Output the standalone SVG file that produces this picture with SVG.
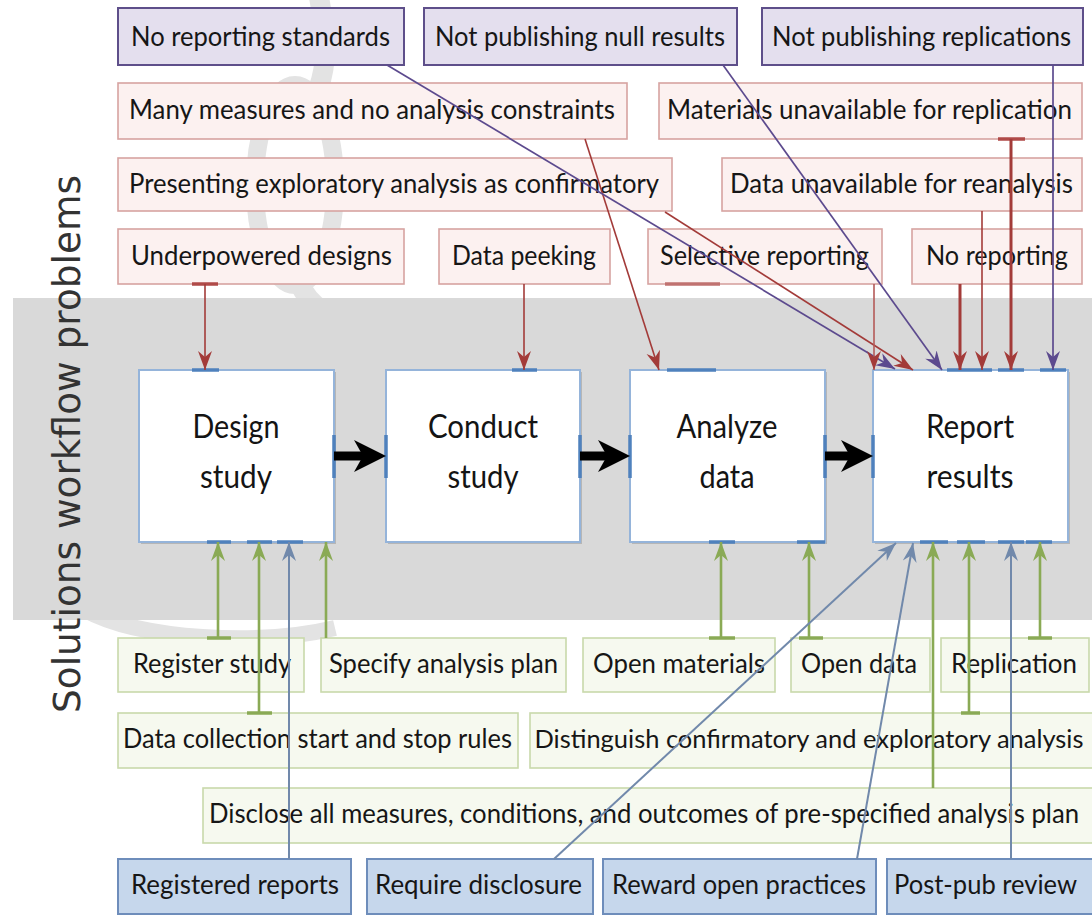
<svg xmlns="http://www.w3.org/2000/svg" width="1092" height="915" viewBox="0 0 1092 915">
  <defs>
    <style>
      .lbl { font-family: Lato, "Liberation Sans", sans-serif; font-size: 26px; fill: #161616; text-anchor: middle; }
      .step-t { font-family: Lato, "Liberation Sans", sans-serif; font-size: 33px; fill: #141414; text-anchor: middle; }
      .prob-p rect { fill: #e4dfee; stroke: #5e4f8a; stroke-width: 2; }
      .prob-r rect { fill: #fcf1f0; stroke: #d6a3a1; stroke-width: 1.6; }
      .sol-g rect { fill: #f6f9ef; stroke: #c9d9ab; stroke-width: 1.6; }
      .sol-b rect { fill: #c6d7ec; stroke: #6e8dbb; stroke-width: 2; }
      .step rect.box { fill: #ffffff; stroke: #95b4da; stroke-width: 2; }
      .step rect.shade { fill: #8c8c8c; opacity: 0.45; }
      .step .site { stroke: #4f81bd; stroke-width: 3.5; fill: none; }
      .wm { fill: none; stroke: #e3e3e3; }
      .c { fill: none; stroke-linecap: butt; }
      .red { stroke: #a33b39; stroke-width: 1.6; marker-end: url(#ah-red); }
      .red-b { stroke: #a33b39; stroke-width: 3; marker-end: url(#ah-red); }
      .red-l { stroke: #b45a58; stroke-width: 1.6; marker-end: url(#ah-red); }
      .pur { stroke: #5c4a8e; stroke-width: 1.7; marker-end: url(#ah-pur); }
      .grn { stroke: #8aaa55; stroke-width: 2.6; marker-end: url(#ah-grn); }
      .blu { stroke: #7189ab; stroke-width: 2; marker-end: url(#ah-blu); }
      .flow { stroke: #000000; stroke-width: 9; marker-end: url(#ah-blk); }
      .tick-r { stroke: #b04a48; stroke-width: 3.5; }
      .tick-g { stroke: #8aaa55; stroke-width: 3.5; }
    </style>
    <marker id="ah-red" viewBox="-19 -8 20 16" refX="0" refY="0" markerWidth="20" markerHeight="16" markerUnits="userSpaceOnUse" orient="auto">
      <path d="M0,0 L-19,-7 L-13,0 L-19,7 Z" fill="#a33b39"/>
    </marker>
    <marker id="ah-pur" viewBox="-19 -8 20 16" refX="0" refY="0" markerWidth="20" markerHeight="16" markerUnits="userSpaceOnUse" orient="auto">
      <path d="M0,0 L-19,-7 L-13,0 L-19,7 Z" fill="#5c4a8e"/>
    </marker>
    <marker id="ah-grn" viewBox="-19 -8 20 16" refX="0" refY="0" markerWidth="20" markerHeight="16" markerUnits="userSpaceOnUse" orient="auto">
      <path d="M0,0 L-19,-7 L-13,0 L-19,7 Z" fill="#8aaa55"/>
    </marker>
    <marker id="ah-blu" viewBox="-19 -8 20 16" refX="0" refY="0" markerWidth="20" markerHeight="16" markerUnits="userSpaceOnUse" orient="auto">
      <path d="M0,0 L-19,-7 L-13,0 L-19,7 Z" fill="#7189ab"/>
    </marker>
    <marker id="ah-blk" viewBox="0 -17 33 34" refX="9" refY="0" markerWidth="33" markerHeight="34" markerUnits="userSpaceOnUse" orient="auto">
      <path d="M0,-16 L32,0 L0,16 L9,0 Z" fill="#000000"/>
    </marker>
  </defs>

  <rect x="0" y="0" width="1092" height="915" fill="#ffffff"/>

  <!-- faint background swirl -->
  <g id="watermark">
    <path class="wm" stroke-width="20" d="M318,-10 C322,20 332,50 318,90"/>
    <ellipse class="wm" stroke-width="18" cx="295" cy="185" rx="40" ry="100"/>
    <path class="wm" stroke-width="20" d="M298,280 C304,295 312,305 325,312"/>
    <path class="wm" stroke-width="16" stroke="#e8e8e8" d="M85,610 C140,640 260,646 335,628"/>
  </g>

  <!-- workflow band -->
  <rect id="band" x="13" y="298" width="1079" height="322" fill="#d9d9d9"/>

  <text id="side-title" transform="translate(80,444) rotate(-90)" font-family="'DejaVu Sans', 'Liberation Sans', sans-serif" font-size="37" fill="#333333" text-anchor="middle" textLength="538" lengthAdjust="spacingAndGlyphs">Solutions workflow problems</text>

  <!-- problems -->
  <g id="no-reporting-standards" class="prob-p">
    <rect x="118" y="8" width="286" height="57"/>
    <text class="lbl" x="260.5" y="46" textLength="259" lengthAdjust="spacingAndGlyphs">No reporting standards</text>
  </g>
  <g id="not-publishing-null" class="prob-p">
    <rect x="424" y="8" width="313" height="57"/>
    <text class="lbl" x="580" y="46" textLength="290" lengthAdjust="spacingAndGlyphs">Not publishing null results</text>
  </g>
  <g id="not-publishing-replications" class="prob-p">
    <rect x="762" y="8" width="321" height="57"/>
    <text class="lbl" x="921.5" y="46" textLength="299" lengthAdjust="spacingAndGlyphs">Not publishing replications</text>
  </g>
  <g id="many-measures" class="prob-r">
    <rect x="118" y="83" width="509" height="56"/>
    <text class="lbl" x="372" y="119" textLength="486" lengthAdjust="spacingAndGlyphs">Many measures and no analysis constraints</text>
  </g>
  <g id="materials-unavailable" class="prob-r">
    <rect x="659" y="83" width="423" height="56"/>
    <text class="lbl" x="869.5" y="119" textLength="405" lengthAdjust="spacingAndGlyphs">Materials unavailable for replication</text>
  </g>
  <g id="exploratory-as-confirmatory" class="prob-r">
    <rect x="118" y="158" width="554" height="53"/>
    <text class="lbl" x="394" y="193" textLength="530" lengthAdjust="spacingAndGlyphs">Presenting exploratory analysis as confirmatory</text>
  </g>
  <g id="data-unavailable" class="prob-r">
    <rect x="722" y="158" width="360" height="53"/>
    <text class="lbl" x="901.5" y="193" textLength="343" lengthAdjust="spacingAndGlyphs">Data unavailable for reanalysis</text>
  </g>
  <g id="underpowered" class="prob-r">
    <rect x="118" y="229" width="286" height="55"/>
    <text class="lbl" x="261.5" y="265" textLength="261" lengthAdjust="spacingAndGlyphs">Underpowered designs</text>
  </g>
  <g id="data-peeking" class="prob-r">
    <rect x="439" y="229" width="171" height="55"/>
    <text class="lbl" x="524" y="265" textLength="144" lengthAdjust="spacingAndGlyphs">Data peeking</text>
  </g>
  <g id="selective-reporting" class="prob-r">
    <rect x="648" y="229" width="234" height="55"/>
    <text class="lbl" x="764.5" y="265" textLength="209" lengthAdjust="spacingAndGlyphs">Selective reporting</text>
  </g>
  <g id="no-reporting" class="prob-r">
    <rect x="912" y="229" width="170" height="55"/>
    <text class="lbl" x="997" y="265" textLength="142" lengthAdjust="spacingAndGlyphs">No reporting</text>
  </g>

  <!-- workflow steps -->
  <g id="design-study" class="step">
    <rect class="shade" x="141" y="372" width="195" height="172"/>
    <rect class="box" x="139" y="370" width="195" height="172"/>
    <path class="site" d="M192,370 H219 M207,542 H231 M247,542 H272 M277,542 H303 M334,435 V478"/>
    <text class="step-t" x="236" y="438" textLength="87" lengthAdjust="spacingAndGlyphs">Design</text>
    <text class="step-t" x="236" y="488" textLength="72" lengthAdjust="spacingAndGlyphs">study</text>
  </g>
  <g id="conduct-study" class="step">
    <rect class="shade" x="388" y="372" width="194" height="172"/>
    <rect class="box" x="386" y="370" width="194" height="172"/>
    <path class="site" d="M512,370 H537 M386,435 V478 M580,435 V478"/>
    <text class="step-t" x="483" y="438" textLength="110" lengthAdjust="spacingAndGlyphs">Conduct</text>
    <text class="step-t" x="483" y="488" textLength="71" lengthAdjust="spacingAndGlyphs">study</text>
  </g>
  <g id="analyze-data" class="step">
    <rect class="shade" x="632" y="372" width="195" height="172"/>
    <rect class="box" x="630" y="370" width="195" height="172"/>
    <path class="site" d="M667,370 H716 M630,435 V478 M825,435 V478 M709,542 H735 M797,542 H825"/>
    <text class="step-t" x="727" y="438" textLength="101" lengthAdjust="spacingAndGlyphs">Analyze</text>
    <text class="step-t" x="727" y="488" textLength="55" lengthAdjust="spacingAndGlyphs">data</text>
  </g>
  <g id="report-results" class="step">
    <rect class="shade" x="875" y="372" width="195" height="172"/>
    <rect class="box" x="873" y="370" width="195" height="172"/>
    <path class="site" d="M947,370 H992 M998,370 H1024 M1040,370 H1066 M873,435 V478 M920,542 H948 M957,542 H985 M998,542 H1024 M1026,542 H1052"/>
    <text class="step-t" x="970" y="438" textLength="88" lengthAdjust="spacingAndGlyphs">Report</text>
    <text class="step-t" x="970" y="488" textLength="87" lengthAdjust="spacingAndGlyphs">results</text>
  </g>

  <!-- solutions -->
  <g id="register-study" class="sol-g">
    <rect x="118" y="638" width="186" height="54"/>
    <text class="lbl" x="212" y="673" textLength="158" lengthAdjust="spacingAndGlyphs">Register study</text>
  </g>
  <g id="specify-plan" class="sol-g">
    <rect x="321" y="638" width="245" height="54"/>
    <text class="lbl" x="443.5" y="673" textLength="229" lengthAdjust="spacingAndGlyphs">Specify analysis plan</text>
  </g>
  <g id="open-materials" class="sol-g">
    <rect x="583" y="638" width="192" height="54"/>
    <text class="lbl" x="679" y="673" textLength="172" lengthAdjust="spacingAndGlyphs">Open materials</text>
  </g>
  <g id="open-data" class="sol-g">
    <rect x="791" y="638" width="139" height="54"/>
    <text class="lbl" x="859" y="673" textLength="116" lengthAdjust="spacingAndGlyphs">Open data</text>
  </g>
  <g id="replication" class="sol-g">
    <rect x="941" y="638" width="148" height="54"/>
    <text class="lbl" x="1014" y="673" textLength="126" lengthAdjust="spacingAndGlyphs">Replication</text>
  </g>
  <g id="stop-rules" class="sol-g">
    <rect x="118" y="713" width="400" height="55"/>
    <text class="lbl" x="317.5" y="748" textLength="389" lengthAdjust="spacingAndGlyphs">Data collection start and stop rules</text>
  </g>
  <g id="distinguish" class="sol-g">
    <rect x="530" y="713" width="566" height="55"/>
    <text class="lbl" x="809" y="748" style="font-size:24.5px" textLength="549" lengthAdjust="spacingAndGlyphs">Distinguish confirmatory and exploratory analysis</text>
  </g>
  <g id="disclose-all" class="sol-g">
    <rect x="203" y="788" width="893" height="55"/>
    <text class="lbl" x="644" y="823" textLength="870" lengthAdjust="spacingAndGlyphs">Disclose all measures, conditions, and outcomes of pre-specified analysis plan</text>
  </g>
  <g id="registered-reports" class="sol-b">
    <rect x="118" y="859" width="233" height="55"/>
    <text class="lbl" x="235" y="894" textLength="208" lengthAdjust="spacingAndGlyphs">Registered reports</text>
  </g>
  <g id="require-disclosure" class="sol-b">
    <rect x="367" y="859" width="226" height="55"/>
    <text class="lbl" x="478.5" y="894" textLength="207" lengthAdjust="spacingAndGlyphs">Require disclosure</text>
  </g>
  <g id="reward-open" class="sol-b">
    <rect x="603" y="859" width="273" height="55"/>
    <text class="lbl" x="739" y="894" textLength="254" lengthAdjust="spacingAndGlyphs">Reward open practices</text>
  </g>
  <g id="post-pub-review" class="sol-b">
    <rect x="887" y="859" width="209" height="55"/>
    <text class="lbl" x="985.5" y="894" textLength="183" lengthAdjust="spacingAndGlyphs">Post-pub review</text>
  </g>

  <!-- connectors -->
  <g id="connectors">
    <!-- start sites on source boxes -->
    <path class="tick-r" d="M192,284 H218 M998,139 H1025"/>
    <path stroke="#c07270" stroke-width="3.5" d="M665,284 H720"/>
    <path class="tick-g" d="M207,638 H231 M247,713 H272 M709,638 H735 M799,638 H823 M1028,638 H1052 M961,713 H980"/>

    <!-- main flow -->
    <line class="c flow" x1="334" y1="456" x2="363" y2="456"/>
    <line class="c flow" x1="580" y1="456" x2="607" y2="456"/>
    <line class="c flow" x1="825" y1="456" x2="850" y2="456"/>

    <!-- problems into steps -->
    <line class="c red" x1="205" y1="284" x2="205" y2="370"/>
    <line class="c red" x1="524" y1="284" x2="524" y2="370"/>
    <line class="c red" x1="585" y1="139" x2="659" y2="370"/>
    <line class="c pur" x1="387" y1="65" x2="895" y2="369"/>
    <line class="c red" x1="665" y1="212" x2="913" y2="370"/>
    <line class="c red-l" x1="874" y1="284" x2="874" y2="370"/>
    <line class="c pur" x1="723" y1="65" x2="942" y2="370"/>
    <line class="c red-b" x1="960" y1="284" x2="960" y2="370"/>
    <line class="c red" stroke-width="2" x1="982" y1="211" x2="982" y2="370"/>
    <line class="c red-b" x1="1011" y1="139" x2="1011" y2="370"/>
    <line class="c pur" x1="1053" y1="65" x2="1053" y2="370"/>

    <!-- solutions into steps -->
    <line class="c grn" x1="218" y1="638" x2="218" y2="542"/>
    <line class="c grn" x1="259" y1="713" x2="259" y2="542"/>
    <line class="c blu" x1="289" y1="859" x2="289" y2="542"/>
    <line class="c grn" x1="326" y1="638" x2="326" y2="542"/>
    <line class="c grn" x1="721" y1="638" x2="721" y2="542"/>
    <line class="c grn" x1="809" y1="638" x2="809" y2="542"/>
    <line class="c blu" x1="554" y1="859" x2="896" y2="543"/>
    <line class="c blu" x1="857" y1="859" x2="913" y2="543"/>
    <line class="c grn" x1="933" y1="788" x2="933" y2="542"/>
    <line class="c grn" x1="969" y1="713" x2="969" y2="542"/>
    <line class="c blu" x1="1011" y1="859" x2="1011" y2="542"/>
    <line class="c grn" x1="1040" y1="638" x2="1040" y2="542"/>
  </g>
</svg>
